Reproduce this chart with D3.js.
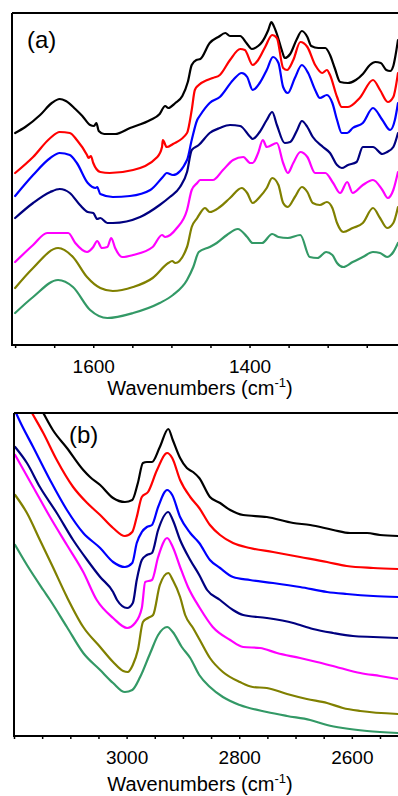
<!DOCTYPE html>
<html><head><meta charset="utf-8">
<script src="https://cdn.jsdelivr.net/npm/d3@7"></script>
<style>
html,body{margin:0;padding:0;background:#fff;}
svg{display:block;font-family:Arial,'Liberation Sans',sans-serif;}
</style></head>
<body>
<svg id="chart" width="398" height="796"></svg>
<script>
// ---------- DATA (wavenumber cm-1, absorbance a.u., offset-stacked) ----------
const seriesColors = ["#000000", "#ff0000", "#0000ff", "#000080", "#ff00ff", "#808000", "#339966"];

const ticksA = [1700,1650,1600,1550,1500,1450,1400,1350,1300,1250];
const tickLabelsA = [1600, 1400];
const ticksB = [3200,3150,3100,3050,3000,2950,2900,2850,2800,2750,2700,2650,2600,2550];
const tickLabelsB = [3000, 2800, 2600];

const aBlack = [[1700,2.12],[1687,2.18],[1668,2.30],[1653,2.42],[1643,2.46],[1635,2.44],[1623,2.36],[1614,2.29],[1604,2.20],[1599,2.19],[1596,2.22],[1593,2.14],[1586,2.11],[1572,2.11],[1553,2.17],[1527,2.25],[1515,2.31],[1508,2.39],[1504,2.37],[1495,2.42],[1486,2.49],[1479,2.63],[1474,2.80],[1468,2.85],[1463,2.86],[1451,3.02],[1440,3.08],[1431,3.12],[1425,3.09],[1412,3.09],[1404,3.02],[1397,2.96],[1389,2.99],[1384,3.03],[1376,3.15],[1372,3.23],[1369,3.19],[1365,3.11],[1358,2.93],[1355,2.87],[1348,2.91],[1340,3.05],[1333,3.14],[1326,3.08],[1321,2.99],[1312,2.97],[1303,2.97],[1297,2.90],[1291,2.77],[1284,2.63],[1274,2.62],[1264,2.65],[1255,2.71],[1246,2.80],[1239,2.83],[1232,2.82],[1225,2.75],[1220,2.74],[1216,2.79],[1212,2.95],[1210,3.05]];
const aRed = [[1700,1.72],[1677,1.88],[1655,2.07],[1643,2.13],[1630,2.12],[1621,2.05],[1608,1.90],[1606,1.87],[1603,1.89],[1600,1.82],[1591,1.73],[1579,1.72],[1549,1.75],[1518,1.88],[1512,1.98],[1511,2.05],[1506,1.98],[1498,2.01],[1480,2.12],[1474,2.35],[1470,2.55],[1465,2.60],[1454,2.65],[1447,2.67],[1438,2.70],[1425,2.85],[1412,2.96],[1406,2.95],[1396,2.80],[1389,2.85],[1380,2.98],[1371,3.10],[1365,3.07],[1357,2.77],[1352,2.75],[1344,2.85],[1335,3.03],[1326,2.98],[1316,2.80],[1307,2.72],[1301,2.75],[1297,2.70],[1288,2.48],[1282,2.38],[1274,2.38],[1259,2.47],[1242,2.65],[1233,2.55],[1223,2.43],[1216,2.48],[1210,2.72]];
const aBlue = [[1700,1.49],[1677,1.70],[1655,1.87],[1643,1.92],[1630,1.90],[1621,1.82],[1607,1.62],[1597,1.57],[1595,1.58],[1591,1.51],[1575,1.48],[1553,1.49],[1527,1.55],[1511,1.68],[1506,1.72],[1498,1.70],[1480,1.85],[1474,2.05],[1467,2.25],[1463,2.30],[1451,2.42],[1438,2.48],[1421,2.65],[1410,2.72],[1403,2.68],[1396,2.55],[1387,2.62],[1378,2.75],[1370,2.88],[1363,2.82],[1357,2.58],[1351,2.52],[1342,2.67],[1333,2.80],[1325,2.72],[1316,2.55],[1310,2.47],[1301,2.50],[1294,2.42],[1288,2.25],[1282,2.12],[1275,2.12],[1268,2.17],[1255,2.22],[1242,2.37],[1230,2.25],[1220,2.15],[1214,2.25],[1210,2.42]];
const aNavy = [[1700,1.27],[1677,1.42],[1655,1.53],[1643,1.56],[1630,1.52],[1617,1.40],[1607,1.33],[1600,1.32],[1595,1.26],[1591,1.27],[1582,1.22],[1575,1.22],[1540,1.28],[1515,1.40],[1502,1.48],[1489,1.58],[1480,1.73],[1474,1.95],[1465,2.00],[1451,2.12],[1438,2.17],[1425,2.20],[1412,2.19],[1399,2.08],[1396,2.06],[1387,2.13],[1378,2.25],[1371,2.33],[1365,2.20],[1355,2.02],[1348,2.03],[1339,2.15],[1333,2.24],[1326,2.18],[1319,2.08],[1306,1.98],[1297,1.92],[1288,1.80],[1282,1.77],[1274,1.80],[1263,1.83],[1255,1.98],[1242,1.98],[1230,1.91],[1224,1.93],[1216,1.98],[1210,2.12]];
const aMagenta = [[1700,0.83],[1677,1.00],[1659,1.12],[1632,1.12],[1623,1.02],[1608,0.93],[1600,0.98],[1595,1.04],[1589,0.97],[1582,0.98],[1577,1.07],[1572,0.97],[1563,0.88],[1549,0.90],[1524,0.98],[1512,1.10],[1508,1.08],[1493,1.17],[1480,1.35],[1474,1.55],[1467,1.62],[1463,1.65],[1447,1.65],[1434,1.75],[1421,1.85],[1408,1.88],[1399,1.82],[1396,1.82],[1389,1.92],[1383,2.05],[1378,1.98],[1365,2.02],[1357,1.82],[1351,1.72],[1344,1.82],[1335,1.93],[1326,1.88],[1316,1.72],[1303,1.72],[1293,1.62],[1284,1.52],[1275,1.63],[1268,1.52],[1255,1.60],[1242,1.65],[1230,1.55],[1223,1.47],[1216,1.55],[1210,1.73]];
const aOlive = [[1700,0.57],[1677,0.77],[1645,0.97],[1626,0.88],[1608,0.68],[1591,0.57],[1575,0.54],[1549,0.58],[1524,0.67],[1504,0.82],[1499,0.84],[1495,0.82],[1480,0.98],[1474,1.18],[1467,1.27],[1463,1.32],[1457,1.37],[1451,1.33],[1438,1.38],[1425,1.47],[1410,1.57],[1403,1.52],[1396,1.42],[1387,1.48],[1378,1.57],[1371,1.67],[1363,1.60],[1357,1.42],[1351,1.38],[1342,1.48],[1333,1.58],[1326,1.53],[1319,1.42],[1310,1.40],[1301,1.43],[1294,1.37],[1288,1.22],[1280,1.13],[1268,1.17],[1255,1.22],[1242,1.37],[1233,1.27],[1224,1.17],[1216,1.22],[1210,1.38]];
const aTeal = [[1700,0.32],[1677,0.48],[1645,0.65],[1626,0.58],[1604,0.35],[1582,0.27],[1549,0.32],[1515,0.42],[1498,0.50],[1480,0.65],[1472,0.78],[1465,0.93],[1451,0.98],[1442,1.02],[1429,1.10],[1415,1.16],[1403,1.08],[1396,1.02],[1384,1.02],[1371,1.11],[1363,1.08],[1351,1.07],[1335,1.10],[1323,0.88],[1313,0.87],[1302,0.93],[1294,0.90],[1288,0.82],[1280,0.78],[1268,0.83],[1255,0.88],[1242,0.93],[1233,0.92],[1224,0.88],[1216,0.93],[1210,1.02]];

const bBlack = [[3198,3.78],[3172,3.48],[3148,3.23],[3131,3.06],[3106,2.88],[3077,2.66],[3065,2.59],[3047,2.51],[3024,2.38],[3003,2.34],[2990,2.36],[2980,2.53],[2971,2.73],[2964,2.74],[2955,2.74],[2941,2.89],[2926,3.07],[2918,2.96],[2905,2.78],[2893,2.68],[2882,2.64],[2871,2.58],[2852,2.39],[2834,2.33],[2816,2.26],[2793,2.21],[2751,2.19],[2704,2.13],[2674,2.11],[2633,2.06],[2603,2.03],[2573,2.03],[2550,2.01],[2518,2.00]];
const bRed = [[3198,3.54],[3168,3.23],[3148,3.03],[3124,2.76],[3095,2.49],[3070,2.33],[3047,2.21],[3024,2.08],[3003,2.00],[2990,2.04],[2982,2.19],[2973,2.39],[2962,2.44],[2946,2.66],[2928,2.83],[2919,2.78],[2905,2.56],[2887,2.39],[2871,2.28],[2852,2.11],[2834,2.01],[2811,1.93],[2781,1.88],[2740,1.84],[2692,1.79],[2644,1.74],[2609,1.70],[2562,1.68],[2518,1.67]];
const bBlue = [[3198,3.25],[3189,3.14],[3166,2.89],[3136,2.56],[3106,2.26],[3077,2.03],[3047,1.88],[3024,1.74],[3003,1.69],[2990,1.73],[2982,1.93],[2973,2.04],[2964,2.09],[2955,2.11],[2944,2.29],[2928,2.46],[2919,2.41],[2905,2.19],[2887,2.03],[2871,1.93],[2852,1.76],[2834,1.68],[2811,1.59],[2781,1.56],[2740,1.53],[2692,1.49],[2644,1.44],[2609,1.42],[2562,1.40],[2518,1.39]];
const bNavy = [[3198,2.89],[3177,2.73],[3154,2.49],[3124,2.23],[3095,1.96],[3070,1.76],[3047,1.59],[3024,1.44],[3017,1.36],[2999,1.28],[2989,1.33],[2982,1.56],[2973,1.76],[2964,1.81],[2955,1.83],[2944,2.06],[2926,2.24],[2918,2.16],[2905,1.96],[2887,1.76],[2871,1.61],[2857,1.46],[2834,1.36],[2811,1.26],[2793,1.21],[2751,1.18],[2704,1.13],[2669,1.07],[2633,1.03],[2598,1.00],[2562,0.99],[2518,0.98]];
const bMagenta = [[3198,2.81],[3166,2.49],[3136,2.19],[3106,1.91],[3077,1.64],[3053,1.36],[3024,1.18],[2999,1.08],[2985,1.13],[2973,1.28],[2967,1.54],[2955,1.56],[2944,1.79],[2928,1.98],[2918,1.89],[2905,1.69],[2891,1.49],[2870,1.28],[2847,1.09],[2816,0.96],[2793,0.89],[2763,0.88],[2733,0.83],[2692,0.78],[2662,0.74],[2621,0.68],[2585,0.63],[2550,0.60],[2518,0.57]];
const bOlive = [[3198,2.41],[3177,2.23],[3154,1.96],[3131,1.69],[3106,1.39],[3077,1.09],[3047,0.89],[3024,0.74],[3006,0.65],[2998,0.64],[2989,0.71],[2980,0.86],[2971,1.14],[2962,1.18],[2953,1.21],[2941,1.51],[2926,1.63],[2918,1.56],[2905,1.39],[2896,1.21],[2882,1.08],[2870,0.96],[2852,0.78],[2829,0.64],[2799,0.54],[2776,0.49],[2751,0.48],[2715,0.42],[2680,0.37],[2644,0.33],[2616,0.28],[2585,0.25],[2518,0.22]];
const bTeal = [[3198,1.91],[3177,1.71],[3148,1.46],[3136,1.36],[3106,1.09],[3077,0.83],[3047,0.66],[3024,0.53],[3003,0.44],[2990,0.46],[2976,0.59],[2958,0.83],[2944,1.01],[2928,1.09],[2918,1.04],[2902,0.89],[2887,0.78],[2871,0.61],[2852,0.49],[2829,0.39],[2799,0.31],[2751,0.24],[2715,0.20],[2674,0.16],[2644,0.11],[2616,0.08],[2573,0.05],[2518,0.03]];

const seriesA = [aBlack, aRed, aBlue, aNavy, aMagenta, aOlive, aTeal];
const seriesB = [bBlack, bRed, bBlue, bNavy, bMagenta, bOlive, bTeal];

// ---------- DRAW ----------
const svg = d3.select("#chart");

function panel(opts) {
  const {id, left, right, top, bottom, xDomain, yDomain, series, ticks, labels, tag, tagX, tagY, tickY, titleY} = opts;
  const x = d3.scaleLinear().domain(xDomain).range([left, right]);
  const y = d3.scaleLinear().domain(yDomain).range([bottom, top]);
  const g = svg.append("g");

  g.append("clipPath").attr("id", "clip" + id)
    .append("rect").attr("x", left).attr("y", top).attr("width", right - left).attr("height", bottom - top);

  const line = d3.line().x(d => x(d[0])).y(d => y(d[1])).curve(d3.curveMonotoneX);
  const lines = g.append("g").attr("clip-path", `url(#clip${id})`);
  series.forEach((s, i) => {
    lines.append("path").datum(s).attr("d", line)
      .attr("fill", "none").attr("stroke", seriesColors[i])
      .attr("stroke-width", 2.2).attr("stroke-linejoin", "round").attr("stroke-linecap", "round");
  });

  // frame: left + top
  g.append("line").attr("x1", left).attr("x2", left).attr("y1", top).attr("y2", bottom)
    .attr("stroke", "#000").attr("stroke-width", 2);
  g.append("line").attr("x1", left).attr("x2", right).attr("y1", top).attr("y2", top)
    .attr("stroke", "#000").attr("stroke-width", 2);

  const axis = d3.axisBottom(x).tickValues(ticks).tickSize(3).tickSizeOuter(0)
    .tickFormat(d => labels.includes(d) ? d : "");
  const ax = g.append("g").attr("transform", `translate(0,${bottom})`).call(axis);
  ax.select(".domain").attr("stroke-width", 2).attr("stroke", "#000")
    .attr("d", `M${left - 1},0H${right}`);
  ax.selectAll(".tick line").attr("stroke-width", 1.5);
  ax.selectAll(".tick text").attr("font-size", 19).attr("font-family", "Arial,'Liberation Sans',sans-serif")
    .attr("fill", "#000").attr("y", tickY).attr("dy", 0);

  const t = g.append("text").attr("x", 200).attr("y", titleY).attr("text-anchor", "middle")
    .attr("font-size", 20).attr("fill", "#000");
  t.append("tspan").text("Wavenumbers (cm");
  t.append("tspan").attr("font-size", 13).attr("dy", -8).text("-1");
  t.append("tspan").attr("dy", 8).text(")");

  g.append("text").attr("x", tagX).attr("y", tagY).attr("font-size", 24).attr("fill", "#000").text(tag);
}

panel({id: "a", left: 12, right: 398, top: 13, bottom: 345, xDomain: [1704, 1210], yDomain: [0, 3.32],
  series: seriesA, ticks: ticksA, labels: tickLabelsA, tag: "(a)", tagX: 27, tagY: 48, tickY: 28, titleY: 395});
panel({id: "b", left: 14, right: 398, top: 413, bottom: 736, xDomain: [3200, 2518], yDomain: [0, 3.23],
  series: seriesB, ticks: ticksB, labels: tickLabelsB, tag: "(b)", tagX: 69, tagY: 443, tickY: 28, titleY: 791});
</script>
</body></html>
